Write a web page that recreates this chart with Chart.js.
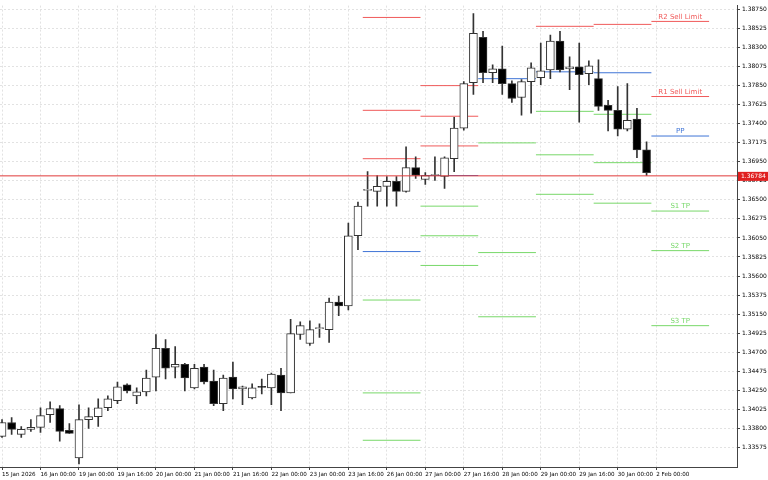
<!DOCTYPE html>
<html>
<head>
<meta charset="utf-8">
<script src="https://cdn.jsdelivr.net/npm/chart.js@4/dist/chart.umd.min.js"></script>
<style>
  html, body { margin: 0; padding: 0; background: #fff; }
  #wrap { width: 768px; height: 480px; }
</style>
</head>
<body>
<div id="wrap"><canvas id="chart"></canvas></div>
<script>
// H4 candles, prices
const opens  = [1.33705,1.33868,1.33728,1.33786,1.33810,1.33961,1.34032,1.33775,1.33448,1.33903,1.33938,1.34043,1.34125,1.34312,1.34183,1.34230,1.34405,1.34744,1.34522,1.34557,1.34277,1.34522,1.34359,1.34090,1.34405,1.34265,1.34160,1.34289,1.34277,1.34429,1.34218,1.34908,1.34802,1.34978,1.34966,1.35293,1.35246,1.36076,1.36613,1.36601,1.36660,1.36718,1.36601,1.36882,1.36741,1.36788,1.36776,1.36987,1.37349,1.37886,1.38423,1.38003,1.38050,1.37874,1.37711,1.37898,1.37944,1.38038,1.38377,1.38050,1.38073,1.37991,1.37933,1.37617,1.37559,1.37337,1.37454,1.37092];
const highs  = [1.33903,1.33926,1.33821,1.33903,1.34043,1.34113,1.34067,1.33856,1.34078,1.34043,1.34148,1.34183,1.34347,1.34324,1.34277,1.34487,1.34908,1.34849,1.34767,1.34569,1.34557,1.34557,1.34487,1.34429,1.34581,1.34300,1.34324,1.34382,1.34452,1.34510,1.35089,1.35059,1.35071,1.35036,1.35340,1.35363,1.36227,1.36473,1.36835,1.36788,1.36776,1.36776,1.37127,1.37010,1.36823,1.37010,1.37010,1.37477,1.37898,1.38704,1.38493,1.38096,1.38318,1.37909,1.37921,1.38120,1.38353,1.38447,1.38493,1.38190,1.38353,1.38143,1.38155,1.37676,1.37839,1.37874,1.37582,1.37185];
const lows   = [1.33693,1.33728,1.33693,1.33763,1.33751,1.33868,1.33646,1.33740,1.33378,1.33798,1.33821,1.34008,1.34090,1.34218,1.34090,1.34183,1.34242,1.34382,1.34394,1.34242,1.34265,1.34324,1.34067,1.34008,1.34148,1.34078,1.34148,1.34207,1.34078,1.34008,1.34218,1.34849,1.34779,1.34873,1.34814,1.35130,1.35200,1.35912,1.36426,1.36426,1.36426,1.36426,1.36590,1.36753,1.36683,1.36730,1.36636,1.36835,1.37325,1.37746,1.37886,1.37886,1.37746,1.37652,1.37501,1.37524,1.37863,1.37933,1.38014,1.37804,1.37419,1.37863,1.37559,1.37314,1.37255,1.37314,1.36998,1.36788];
const closes = [1.33868,1.33786,1.33786,1.33810,1.33950,1.34032,1.33763,1.33740,1.33903,1.33938,1.34043,1.34148,1.34289,1.34242,1.34230,1.34394,1.34744,1.34510,1.34557,1.34394,1.34510,1.34347,1.34090,1.34394,1.34265,1.34289,1.34277,1.34283,1.34440,1.34218,1.34919,1.35013,1.34966,1.34978,1.35293,1.35246,1.36076,1.36426,1.36613,1.36660,1.36718,1.36601,1.36882,1.36788,1.36788,1.36788,1.36998,1.37349,1.37874,1.38470,1.38003,1.38050,1.37874,1.37699,1.37898,1.38061,1.38026,1.38377,1.38038,1.38073,1.37979,1.38085,1.37606,1.37559,1.37337,1.37442,1.37092,1.36823];

// daily pivot segments: start / end bar positions and levels (null = off chart)
const segStart = [37.5, 43.5, 49.5, 55.5, 61.5, 67.5];
const segEnd   = [43.5, 49.5, 55.5, 61.5, 67.5, 73.5];
const levelR3 = [1.38657, null,    null,    null,    null,    null];
const levelR2 = [1.37559, 1.37851, null,    null,    null,    1.38610];
const levelR1 = [1.36987, 1.37489, null,    1.38552, 1.38575, 1.37722];
const levelPP = [1.35889, 1.36788, 1.37933, 1.38014, 1.38003, 1.37255];
const levelS1 = [1.35316, 1.36426, 1.37174, 1.37547, 1.37512, 1.36368];
const levelS2 = [1.34218, 1.36076, 1.35877, 1.37033, 1.36940, 1.35900];
const levelS3 = [1.33658, 1.35725, 1.35118, 1.36566, 1.36461, 1.35013];
const levelR2b = [null, 1.37138, null, null, null, null];

const currentPrice = 1.36784;
const tickPositions = [0, 4, 8, 12, 16, 20, 24, 28, 32, 36, 40, 44, 48, 52, 56, 60, 64, 68];
const tickLabels = ["15 Jan 2026", "16 Jan 00:00", "19 Jan 00:00", "19 Jan 16:00", "20 Jan 00:00", "21 Jan 00:00",
  "21 Jan 16:00", "22 Jan 00:00", "23 Jan 00:00", "23 Jan 16:00", "26 Jan 00:00", "27 Jan 00:00", "27 Jan 16:00",
  "28 Jan 00:00", "29 Jan 00:00", "29 Jan 16:00", "30 Jan 00:00", "2 Feb 00:00"];
const priceTicks = [1.33575, 1.33800, 1.34025, 1.34250, 1.34475, 1.34700, 1.34925, 1.35150, 1.35375, 1.35600, 1.35825,
  1.36050, 1.36275, 1.36500, 1.36725, 1.36950, 1.37175, 1.37400, 1.37625, 1.37850, 1.38075, 1.38300, 1.38525, 1.38750];

const RED = "#f05a5a", BLUE = "#3f74d6", GREEN = "#78d86a";
const lastLabels = [
  { arr: levelR2, text: "R2 Sell Limit", color: RED },
  { arr: levelR1, text: "R1 Sell Limit", color: RED },
  { arr: levelPP, text: "PP", color: BLUE },
  { arr: levelS1, text: "S1 TP", color: GREEN },
  { arr: levelS2, text: "S2 TP", color: GREEN },
  { arr: levelS3, text: "S3 TP", color: GREEN }
];

// Build datasets
const wickData = opens.map((_, i) => ({ x: i, y: [lows[i], highs[i]] }));
const bodyData = opens.map((o, i) => ({ x: i, y: [o, closes[i]] }));
const bodyFill = opens.map((o, i) => closes[i] < o ? "#000" : "#fff");

const datasets = [
  { type: "bar", data: wickData, backgroundColor: "#333", barThickness: 1, grouped: false, order: 2 },
  { type: "bar", data: bodyData, backgroundColor: bodyFill, borderColor: "#333", borderWidth: 1,
    borderSkipped: false, barThickness: 8, minBarLength: 1, grouped: false, order: 1 }
];

function addLevel(arr, color) {
  arr.forEach((v, d) => {
    if (v === null) return;
    datasets.push({ type: "line", data: [{ x: segStart[d], y: v }, { x: segEnd[d], y: v }],
      borderColor: color, borderWidth: 1, pointRadius: 0, order: 3 });
  });
}
addLevel(levelR3, RED); addLevel(levelR2, RED); addLevel(levelR1, RED); addLevel(levelR2b, RED);
addLevel(levelPP, BLUE);
addLevel(levelS1, GREEN); addLevel(levelS2, GREEN); addLevel(levelS3, GREEN);

datasets.push({ type: "line", data: [{ x: -1, y: currentPrice }, { x: 80, y: currentPrice }],
  borderColor: "#e03a3a", borderWidth: 1, pointRadius: 0, order: 0 });

// Text labels on the last day's levels and the current price box
const overlay = {
  id: "overlay",
  afterDatasetsDraw(chart) {
    const { ctx, scales: { x, y }, chartArea } = chart;
    ctx.save();
    ctx.font = "7px 'DejaVu Sans'";
    ctx.textAlign = "center";
    ctx.textBaseline = "bottom";
    const d = segStart.length - 1;
    const cx = (x.getPixelForValue(segStart[d]) + x.getPixelForValue(segEnd[d])) / 2;
    lastLabels.forEach(l => {
      ctx.fillStyle = l.color;
      ctx.fillText(l.text, cx, y.getPixelForValue(l.arr[d]) - 1);
    });
    const py = y.getPixelForValue(currentPrice);
    ctx.fillStyle = "#e02020";
    ctx.fillRect(chartArea.right + 1, py - 4, 31, 9);
    ctx.fillStyle = "#fff";
    ctx.font = "6px 'DejaVu Sans'";
    ctx.textAlign = "left";
    ctx.textBaseline = "middle";
    ctx.fillText(currentPrice.toFixed(5), chartArea.right + 4, py + 0.5);
    ctx.restore();
  }
};

new Chart(document.getElementById("chart"), {
  data: { datasets },
  plugins: [overlay],
  options: {
    responsive: true,
    maintainAspectRatio: false,
    animation: false,
    layout: { padding: 0 },
    plugins: { legend: { display: false }, tooltip: { enabled: false } },
    scales: {
      x: {
        type: "linear", min: -0.21, max: 76.4, offset: false,
        afterBuildTicks: s => { s.ticks = tickPositions.map(v => ({ value: v })); },
        afterFit: s => { s.height = 13; },
        ticks: { callback: (v) => tickLabels[tickPositions.indexOf(v)], align: "start", padding: 1,
          maxRotation: 0, minRotation: 0, autoSkip: false, color: "#000", font: { size: 5.6, family: "DejaVu Sans" } },
        grid: { offset: false, color: "#e2e2e2", tickColor: "#444", tickLength: 3 },
        border: { color: "#444", dash: [2, 2] }
      },
      y: {
        position: "right", min: 1.33342, max: 1.38797,
        afterBuildTicks: s => { s.ticks = priceTicks.map(v => ({ value: v })); },
        afterFit: s => { s.width = 31; },
        ticks: { callback: v => v.toFixed(5), padding: 2, color: "#000", font: { size: 6, family: "DejaVu Sans" } },
        grid: { color: "#e2e2e2", tickColor: "#444", tickLength: 3 },
        border: { color: "#444", dash: [2, 2] }
      }
    }
  }
});
</script>
</body>
</html>
